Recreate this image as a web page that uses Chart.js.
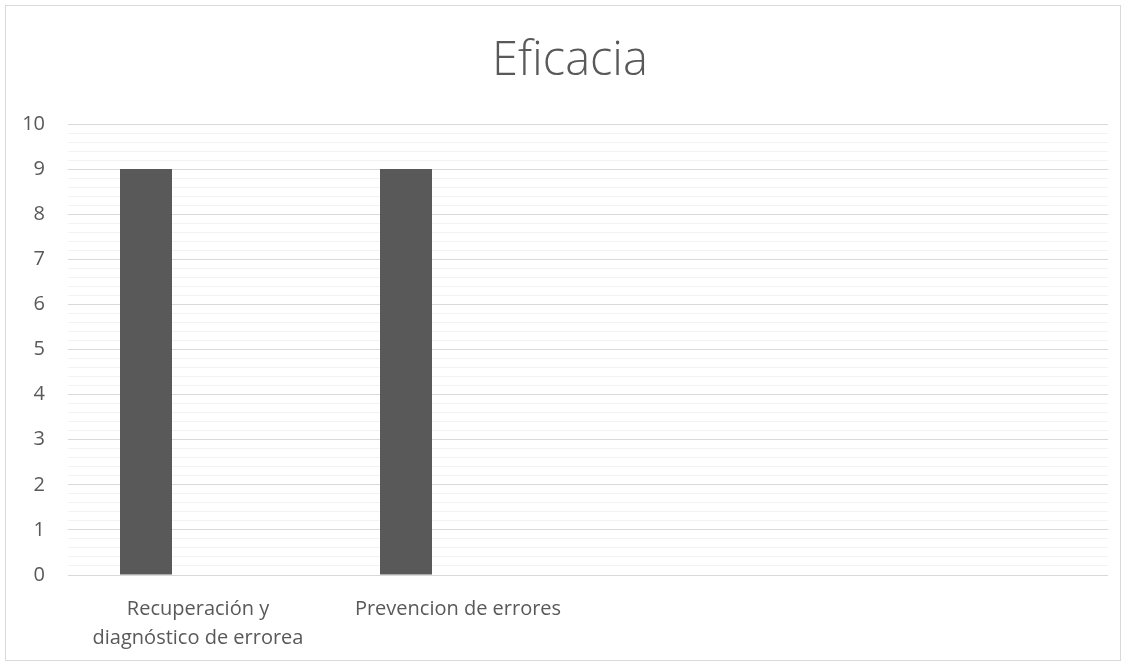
<!DOCTYPE html>
<html>
<head>
<meta charset="utf-8">
<script src="https://cdn.jsdelivr.net/npm/chart.js@4/dist/chart.umd.min.js"></script>
<style>
  html, body { margin: 0; padding: 0; background: #ffffff; }
  #wrap { width: 1126px; height: 666px; position: relative; }
</style>
</head>
<body>
<div id="wrap"><canvas id="chart" width="1126" height="666"></canvas></div>
<script>
// Categories (two empty slots keep the full category spacing)
const categories = [["Recuperación y", "diagnóstico de errorea"], "Prevencion de errores", "", ""];
// Series values
const serie1 = [9, 9, null, null];
const serie2 = [null, null, null, null];
const serie3 = [null, null, null, null];
// Axis range
const yMin = 0;
const yMax = 10;
const yStep = 0.2;
const chartTitle = 'Eficacia';

const isMajor = v => Math.abs(v - Math.round(v)) < 1e-6;
const FONT = "'Open Sans', 'Noto Sans', sans-serif";

// Outer frame and the chart heading
const framePlugin = {
  id: 'frame',
  beforeDraw(chart) {
    const ctx = chart.ctx;
    ctx.save();
    ctx.fillStyle = '#ffffff';
    ctx.fillRect(0, 0, chart.width, chart.height);
    ctx.strokeStyle = '#d9d9d9';
    ctx.lineWidth = 1;
    ctx.strokeRect(5.5, 5.5, chart.width - 11, chart.height - 11);
    ctx.fillStyle = '#595959';
    ctx.font = '300 47px ' + FONT;
    ctx.textAlign = 'center';
    ctx.textBaseline = 'alphabetic';
    ctx.fillText(chartTitle, 570, 75);
    ctx.restore();
  }
};

new Chart(document.getElementById('chart'), {
  type: 'bar',
  data: {
    labels: categories,
    datasets: [
      { label: 'Serie 1', data: serie1, backgroundColor: '#595959' },
      { label: 'Serie 2', data: serie2, backgroundColor: '#7f7f7f' },
      { label: 'Serie 3', data: serie3, backgroundColor: '#a5a5a5' }
    ]
  },
  options: {
    responsive: false,
    animation: false,
    categoryPercentage: 0.6,
    barPercentage: 1.0,
    layout: { padding: { left: 6, right: 18, top: 124, bottom: 0 } },
    plugins: {
      legend: { display: false },
      tooltip: { enabled: false },
      title: { display: false }
    },
    scales: {
      x: {
        grid: { display: false, drawTicks: false },
        border: { display: false },
        ticks: {
          color: '#595959',
          font: { family: FONT, size: 20, lineHeight: 1.45 },
          padding: 20,
          maxRotation: 0,
          autoSkip: false
        },
        afterFit(scale) { scale.height = 91; }
      },
      y: {
        min: yMin,
        max: yMax,
        border: { display: false },
        grid: {
          drawTicks: false,
          lineWidth: 1,
          color: ctx => (ctx.tick && isMajor(ctx.tick.value)) ? '#d9d9d9' : '#f2f2f2'
        },
        ticks: {
          stepSize: yStep,
          autoSkip: false,
          color: '#595959',
          padding: 23,
          font: { family: FONT, size: 20 },
          callback: v => isMajor(v) ? String(Math.round(v)) : ''
        },
        afterFit(scale) { scale.width = 62; }
      }
    }
  },
  plugins: [framePlugin]
});
</script>
</body>
</html>
